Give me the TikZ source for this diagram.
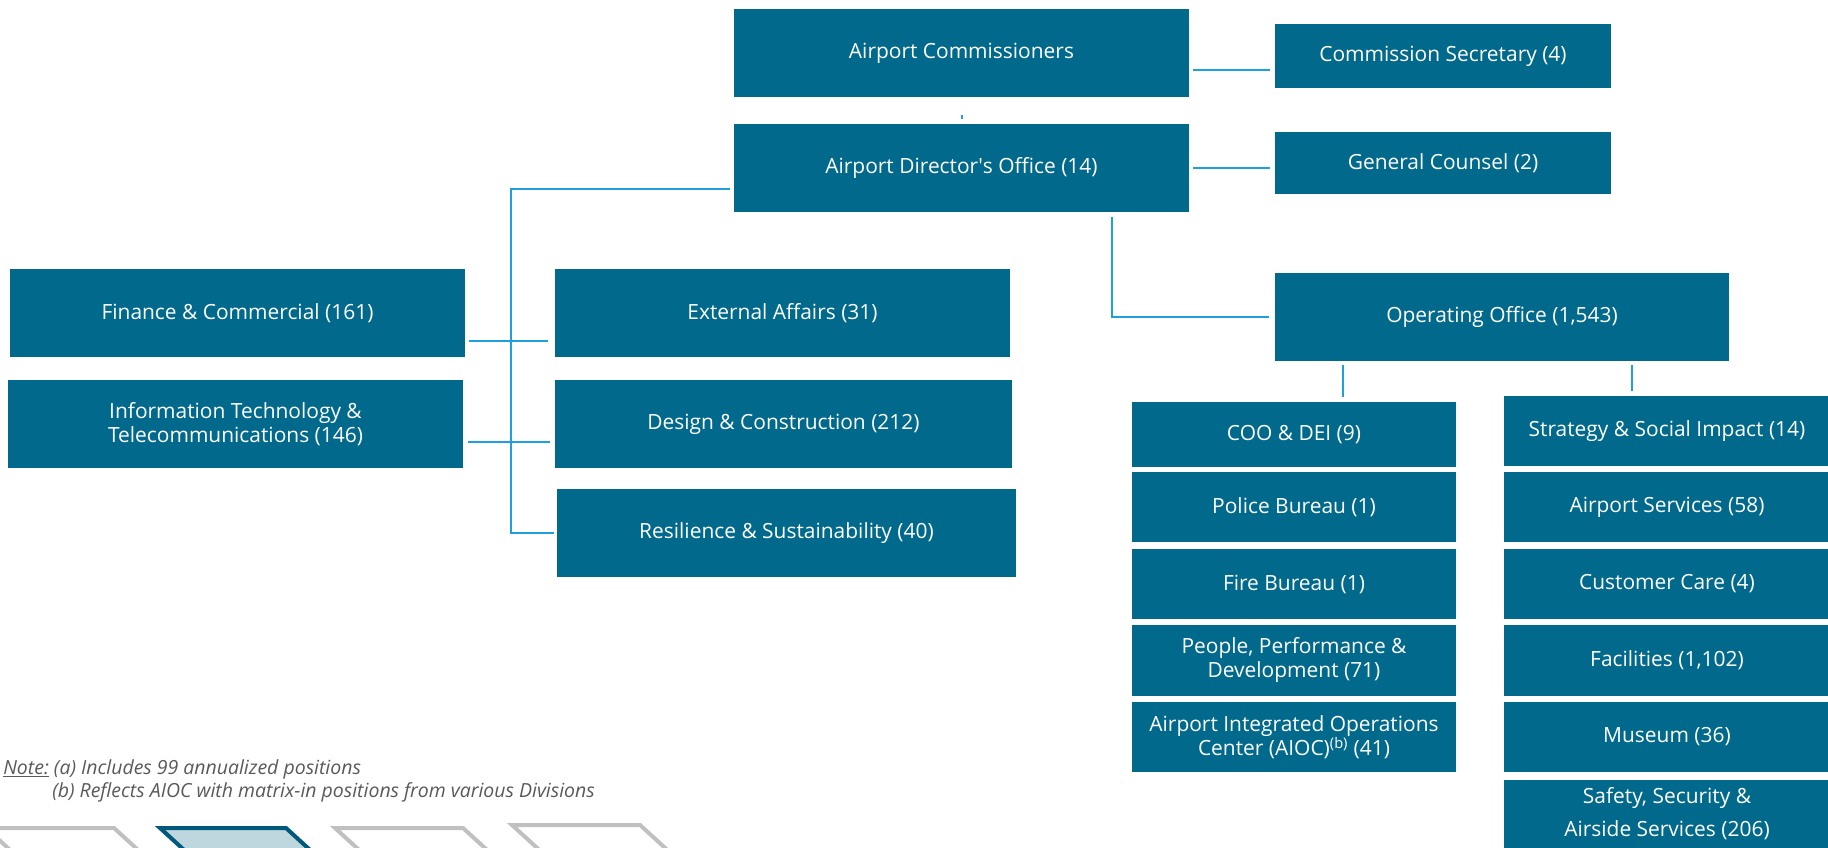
\documentclass[tikz,border=0pt]{standalone}
\usepackage{fontspec}
\setmainfont{Open Sans}
\usetikzlibrary{calc}

\definecolor{boxteal}{RGB}{0,105,140}
\definecolor{linkblue}{RGB}{30,160,222}
\definecolor{notegray}{RGB}{89,89,89}
\definecolor{tabgray}{RGB}{192,192,192}
\definecolor{tabteal}{RGB}{0,88,122}
\definecolor{tabfill}{RGB}{190,214,222}
\newdimen\px \px=0.75pt

\tikzset{
  unit/.style={rectangle, fill=boxteal, text=white, inner sep=0pt, align=center,
    font=\fontsize{15.7}{18}\selectfont},
  link/.style={draw=linkblue, line width=2\px},
  navtab/.style={draw=tabgray, line width=4\px, line join=miter},
  notetext/.style={anchor=base west, text=notegray, inner sep=0pt,
    font=\fontsize{14.6}{18}\selectfont\itshape},
}

\begin{document}
\begin{tikzpicture}[x=0.75pt, y=-0.75pt]
    \useasboundingbox (0,0) rectangle (1828,848);
    \clip (0,0) rectangle (1828,848);

    \node[unit, minimum width=455\px, minimum height=88\px] (ac)  at (961.5,53)  {Airport Commissioners};
    \node[unit, minimum width=336\px, minimum height=64\px] (cs)  at (1443,56)   {Commission Secretary (4)};
    \node[unit, minimum width=455\px, minimum height=88\px] (ado) at (961.5,168) {Airport Director\textquotesingle s Office (14)};
    \node[unit, minimum width=336\px, minimum height=62\px] (gc)  at (1443,163)  {General Counsel (2)};

    \node[unit, minimum width=455\px, minimum height=88\px] (fc) at (237.5,313) {Finance \& Commercial (161)};
    \node[unit, minimum width=455\px, minimum height=88\px] (it) at (235.5,424) {Information Technology \&\\Telecommunications (146)};
    \node[unit, minimum width=455\px, minimum height=88\px] (ea) at (782.5,313) {External Affairs (31)};
    \node[unit, minimum width=457\px, minimum height=88\px] (dc) at (783.5,424) {Design \& Construction (212)};
    \node[unit, minimum width=459\px, minimum height=88\px] (rs) at (786.5,533) {Resilience \& Sustainability (40)};

    \node[unit, minimum width=454\px, minimum height=88\px] (oo) at (1502,317) {Operating Office (1,543)};

    \node[unit, minimum width=324\px, minimum height=65\px] (coo)    at (1294,434.5) {COO \& DEI (9)};
    \node[unit, minimum width=324\px, minimum height=70\px] (police) at (1294,507)   {Police Bureau (1)};
    \node[unit, minimum width=324\px, minimum height=70\px] (fire)   at (1294,584)   {Fire Bureau (1)};
    \node[unit, minimum width=324\px, minimum height=71\px] (ppd)    at (1294,660.5) {People, Performance \&\\Development (71)};
    \node[unit, minimum width=324\px, minimum height=70\px] (aioc)   at (1294,737)   {Airport Integrated Operations\\Center (AIOC)\textsuperscript{(b)} (41)};

    \node[unit, minimum width=326\px, minimum height=70\px] (ssi)    at (1667,431)   {Strategy \& Social Impact (14)};
    \node[unit, minimum width=326\px, minimum height=70\px] (serv)   at (1667,507)   {Airport Services (58)};
    \node[unit, minimum width=326\px, minimum height=70\px] (care)   at (1667,584)   {Customer Care (4)};
    \node[unit, minimum width=326\px, minimum height=71\px] (fac)    at (1667,660.5) {Facilities (1,102)};
    \node[unit, minimum width=326\px, minimum height=70\px] (museum) at (1667,737)   {Museum (36)};
    \node[unit, minimum width=326\px, minimum height=68\px, font=\fontsize{15.7}{24.75}\selectfont] (ssas) at (1667,814) {Safety, Security \&\\Airside Services (206)};

    \draw[link, shorten <=4\px, shorten >=5\px] ([yshift=-17\px]ac.east) -- ([yshift=-14\px]cs.west);
    \draw[link, shorten <=4\px, shorten >=5\px] (ado.east) -- ([yshift=-5\px]gc.west);
    \draw[link, shorten <=18\px, shorten >=5\px] (ac.south) -- (ado.north);

    \coordinate (spine) at (511,189);
    \draw[link] ([xshift=-4\px,yshift=-21\px]ado.west) -- (spine) |- ([xshift=-3\px]rs.west);
    \draw[link, shorten <=4\px, shorten >=7\px] ([yshift=-28\px]fc.east) -- ([yshift=-28\px]ea.west);
    \draw[link, shorten <=5\px, shorten >=5\px] ([yshift=-18\px]it.east) -- ([yshift=-18\px]dc.west);

    \draw[link] ([xshift=-77\px,yshift=-5\px]ado.south east) |- ([xshift=-6\px]oo.west);

    \coordinate (cootick) at (1343,397);
    \coordinate (ssitick) at (1632,391);
    \draw[link] (cootick |- oo.south) ++(0,4) -- (cootick);
    \draw[link] (ssitick |- oo.south) ++(0,4) -- (ssitick);

    \node[notetext] (notea) at (3,774)  {\underline{Note:} (a) Includes 99 annualized positions};
    \node[notetext] (noteb) at (52,797) {(b) Reflects AIOC with matrix-in positions from various Divisions};

    \draw[navtab] (-14,828) -- ++(128,0) -- ++(46,42) -- ++(-128,0) -- cycle;
    \draw[navtab, draw=tabteal, fill=tabfill] (160,828) -- ++(126,0) -- ++(46,42) -- ++(-126,0) -- cycle;
    \draw[navtab] (335,828) -- ++(128,0) -- ++(46,42) -- ++(-128,0) -- cycle;
    \draw[navtab] (512,825) -- ++(128,0) -- ++(46,42) -- ++(-128,0) -- cycle;
\end{tikzpicture}
\end{document}
